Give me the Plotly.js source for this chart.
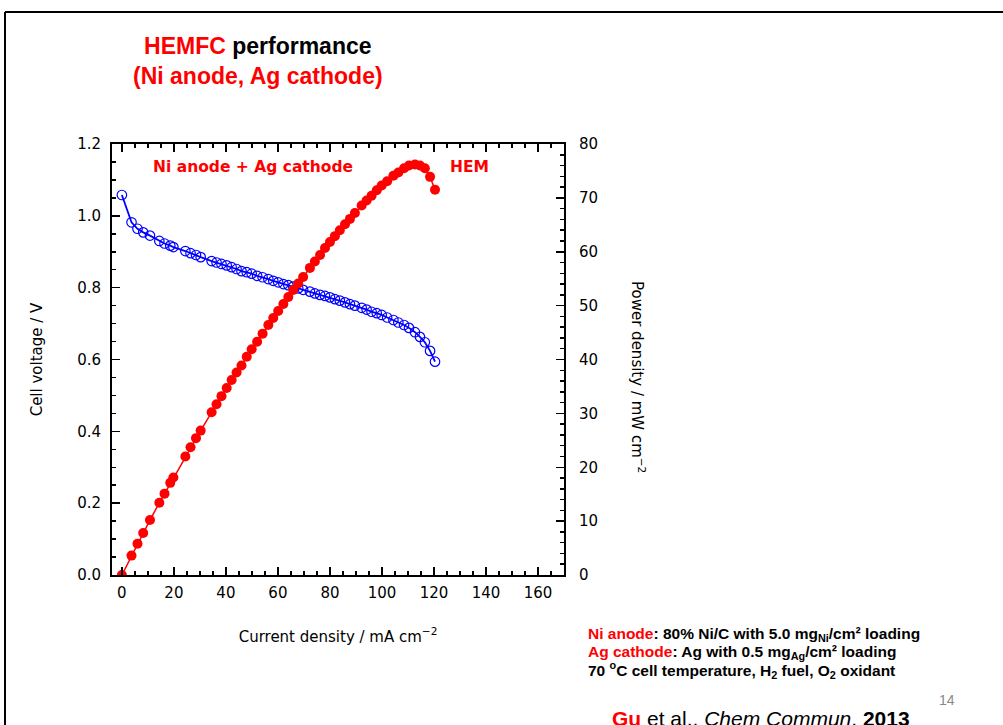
<!DOCTYPE html>
<html>
<head>
<meta charset="utf-8">
<script src="https://cdn.plot.ly/plotly-3.0.1.min.js"></script>
<style>html,body{margin:0;padding:0;background:#fff;}#chart{width:1003px;height:725px;}</style>
</head>
<body>
<div id="chart"></div>
<script>
// Current density (mA cm^-2)
const currentDensity = [0, 3.7, 6.0, 8.2, 10.8, 14.4, 16.4, 18.6, 19.8, 24.4, 26.4, 28.5, 30.3,
  34.5, 36.4, 38.3, 40.3, 42.2, 44.1, 46.0, 48.0, 49.9, 52.0, 54.1, 56.3, 58.2, 60.1, 62.1, 64.0,
  65.9, 67.8, 69.7, 72.3, 74.2, 76.2, 78.1, 80.0, 81.9, 83.8, 85.8, 87.7, 89.6, 92.2, 94.1, 96.0,
  98.0, 99.9, 102.0, 104.4, 106.3, 108.5, 110.4, 112.7, 114.6, 116.5, 118.5, 120.4];
// Cell voltage (V)
const cellVoltage = [1.058, 0.982, 0.964, 0.954, 0.945, 0.930, 0.923, 0.917, 0.913, 0.902, 0.896, 0.891, 0.885,
  0.874, 0.870, 0.866, 0.862, 0.857, 0.852, 0.846, 0.843, 0.839, 0.833, 0.829, 0.824, 0.819, 0.815, 0.810, 0.807,
  0.803, 0.798, 0.794, 0.789, 0.784, 0.780, 0.777, 0.773, 0.768, 0.764, 0.759, 0.754, 0.750, 0.744, 0.739, 0.733,
  0.729, 0.724, 0.717, 0.710, 0.703, 0.696, 0.688, 0.676, 0.663, 0.648, 0.624, 0.594];
// Power density (mW cm^-2)
const powerDensity = [0, 3.6, 5.8, 7.8, 10.2, 13.4, 15.1, 17.1, 18.1, 22.0, 23.7, 25.4, 26.8,
  30.2, 31.7, 33.2, 34.7, 36.2, 37.6, 38.9, 40.5, 41.9, 43.3, 44.8, 46.4, 47.7, 49.0, 50.3, 51.6,
  52.9, 54.1, 55.3, 57.0, 58.2, 59.4, 60.7, 61.8, 62.9, 64.0, 65.1, 66.1, 67.2, 68.6, 69.5, 70.4,
  71.4, 72.3, 73.1, 74.1, 74.7, 75.5, 76.0, 76.2, 76.0, 75.5, 73.9, 71.5];

const xTickVals = [0, 20, 40, 60, 80, 100, 120, 140, 160];
const yTickVals = [0.0, 0.2, 0.4, 0.6, 0.8, 1.0, 1.2];
const y2TickVals = [0, 10, 20, 30, 40, 50, 60, 70, 80];

const RED = '#FF0000', BLUE = '#0000FF';
const W = 1003, H = 725;
const L = 112, R = 564, T = 144, B = 575;
const px = x => (x - L) / (R - L);
const py = y => (B - y) / (B - T);

const tickFont = {family: 'DejaVu Sans', size: 15, color: '#000'};
const titleFont = {family: 'DejaVu Sans', size: 15, color: '#000'};

const traces = [
  {
    x: currentDensity, y: powerDensity, yaxis: 'y2', type: 'scatter', mode: 'lines+markers',
    line: {color: RED, width: 1.5},
    marker: {color: RED, size: 10, symbol: 'circle'},
    hoverinfo: 'x+y', showlegend: false
  },
  {
    x: currentDensity, y: cellVoltage, type: 'scatter', mode: 'lines+markers',
    line: {color: BLUE, width: 1.8},
    marker: {color: 'rgba(0,0,0,0)', size: 9.5, symbol: 'circle', line: {color: BLUE, width: 1.2}},
    hoverinfo: 'x+y', showlegend: false
  }
];

const layout = {
  width: W, height: H,
  margin: {l: L, r: W - R, t: T, b: H - B, pad: 0},
  paper_bgcolor: '#fff', plot_bgcolor: '#fff',
  showlegend: false,
  xaxis: {
    range: [-3.8, 170], tickvals: xTickVals, ticktext: xTickVals.map(String),
    ticks: 'inside', ticklen: 8, tickwidth: 1.5, tickcolor: '#000',
    minor: {dtick: 5, tick0: 0, ticks: 'inside', ticklen: 4, tickwidth: 1.5, tickcolor: '#000', showgrid: false},
    showline: true, linewidth: 2, linecolor: '#000', mirror: 'ticks',
    showgrid: false, zeroline: false, tickfont: tickFont, ticklabelstandoff: 3,
    title: {text: 'Current density / mA cm<sup>−2</sup>', font: titleFont, standoff: 30},
    automargin: false
  },
  yaxis: {
    range: [0, 1.2], tickvals: yTickVals, ticktext: yTickVals.map(v => v.toFixed(1)),
    ticks: 'inside', ticklen: 8, tickwidth: 1.5, tickcolor: '#000',
    minor: {dtick: 0.05, tick0: 0, ticks: 'inside', ticklen: 4, tickwidth: 1.5, tickcolor: '#000', showgrid: false},
    showline: true, linewidth: 2, linecolor: '#000', mirror: false,
    showgrid: false, zeroline: false, tickfont: tickFont, ticklabelstandoff: 6,
    title: {text: 'Cell voltage / V', font: titleFont, standoff: 31},
    automargin: false
  },
  yaxis2: {
    range: [0, 80], overlaying: 'y', side: 'right',
    tickvals: y2TickVals, ticktext: y2TickVals.map(String),
    ticks: 'inside', ticklen: 8, tickwidth: 1.5, tickcolor: '#000',
    minor: {dtick: 2, tick0: 0, ticks: 'inside', ticklen: 4, tickwidth: 1.5, tickcolor: '#000', showgrid: false},
    showline: true, linewidth: 2, linecolor: '#000',
    showgrid: false, zeroline: false, tickfont: tickFont, ticklabelstandoff: 10,
    automargin: false
  },
  shapes: [
    {type: 'line', xref: 'paper', yref: 'paper', x0: px(5), x1: px(1010), y0: py(12), y1: py(12), line: {color: '#000', width: 2}},
    {type: 'line', xref: 'paper', yref: 'paper', x0: px(5), x1: px(5), y0: py(12), y1: py(730), line: {color: '#000', width: 2}}
  ],
  annotations: [
    {xref: 'paper', yref: 'paper', x: px(258), y: py(31), xanchor: 'center', yanchor: 'top', showarrow: false,
     text: '<span style="color:#FF0000">HEMFC</span> performance<br><span style="color:#FF0000">(Ni anode, Ag cathode)</span>',
     font: {family: 'Liberation Sans', size: 23, color: '#000', weight: 'bold'}},
    {xref: 'x', yref: 'y', x: 50.5, y: 1.135, xanchor: 'center', yanchor: 'middle', showarrow: false,
     text: 'Ni anode + Ag cathode', font: {family: 'DejaVu Sans', size: 15.5, color: RED, weight: 'bold'}},
    {xref: 'x', yref: 'y', x: 133.5, y: 1.135, xanchor: 'center', yanchor: 'middle', showarrow: false,
     text: 'HEM', font: {family: 'DejaVu Sans', size: 15.5, color: RED, weight: 'bold'}},
    {xref: 'paper', yref: 'paper', x: px(638), y: py(377), xanchor: 'center', yanchor: 'middle', showarrow: false,
     textangle: 90, text: 'Power density / mW cm<sup>−2</sup>', font: titleFont},
    {xref: 'paper', yref: 'paper', x: px(586), y: py(634), xanchor: 'left', yanchor: 'middle', showarrow: false,
     text: '<span style="color:#FF0000">Ni anode</span>: 80% Ni/C with 5.0 mg<sub>Ni</sub>/cm² loading',
     font: {family: 'Liberation Sans', size: 15.5, color: '#000', weight: 'bold'}},
    {xref: 'paper', yref: 'paper', x: px(586), y: py(652), xanchor: 'left', yanchor: 'middle', showarrow: false,
     text: '<span style="color:#FF0000">Ag cathode</span>: Ag with 0.5 mg<sub>Ag</sub>/cm² loading',
     font: {family: 'Liberation Sans', size: 15.5, color: '#000', weight: 'bold'}},
    {xref: 'paper', yref: 'paper', x: px(586), y: py(670), xanchor: 'left', yanchor: 'middle', showarrow: false,
     text: '70 <sup>o</sup>C cell temperature, H<sub>2</sub> fuel, O<sub>2</sub> oxidant',
     font: {family: 'Liberation Sans', size: 15.5, color: '#000', weight: 'bold'}},
    {xref: 'paper', yref: 'paper', x: px(957), y: py(700), xanchor: 'right', yanchor: 'middle', showarrow: false,
     text: '14', font: {family: 'Liberation Sans', size: 14, color: '#888'}},
    {xref: 'paper', yref: 'paper', x: px(610), y: py(705), xanchor: 'left', yanchor: 'top', showarrow: false,
     text: '<b><span style="color:#FF0000">Gu</span></b> et al., <i>Chem Commun</i>, <b>2013</b>',
     font: {family: 'Liberation Sans', size: 21, color: '#000'}}
  ]
};

Plotly.newPlot('chart', traces, layout, {displayModeBar: false, staticPlot: true});
</script>
</body>
</html>
